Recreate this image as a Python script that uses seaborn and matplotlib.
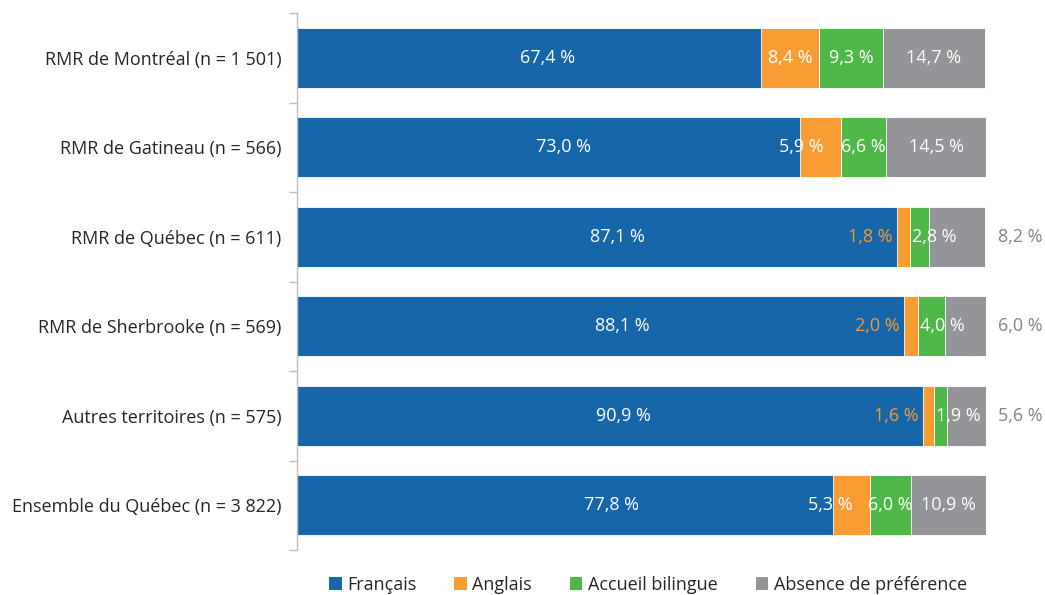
import numpy as np
import pandas as pd
import matplotlib
matplotlib.use("Agg")
import matplotlib.pyplot as plt
import seaborn as sns
from matplotlib.patches import Patch

categories = ["RMR de Montréal (n = 1 501)", "RMR de Gatineau (n = 566)", "RMR de Québec (n = 611)",
              "RMR de Sherbrooke (n = 569)", "Autres territoires (n = 575)", "Ensemble du Québec (n = 3 822)"]
francais = [67.4, 73.0, 87.1, 88.1, 90.9, 77.8]
anglais = [8.4, 5.9, 1.8, 2.0, 1.6, 5.3]
bilingue = [9.3, 6.6, 2.8, 4.0, 1.9, 6.0]
absence = [14.7, 14.5, 8.2, 6.0, 5.6, 10.9]
series_names = ["Français", "Anglais", "Accueil bilingue", "Absence de préférence"]

# label nudges for the first segment (layout only, in axis units)
fr_label_dx = [2.6, 2.2, 2.9, 3.2, 2.0, 6.8]

colors = ["#1766a9", "#f79d33", "#4fb848", "#939598"]
orange_txt = "#f59a2f"
gray_txt = "#858585"

sns.set_theme(style="white")
plt.rcParams['font.family'] = ['Open Sans', 'DejaVu Sans']

fig = plt.figure(figsize=(10.45, 5.95), dpi=100)
ax = fig.add_axes([297/1045, 1-550/595, (986-297)/1045, (550-13)/595])

vals = np.array([francais, anglais, bilingue, absence])
cum = np.cumsum(vals, axis=0)
df = pd.DataFrame({"cat": categories})
for i in range(3, -1, -1):
    df["v"] = cum[i]
    sns.barplot(data=df, x="v", y="cat", orient="h", color=colors[i], saturation=1,
                width=0.67, edgecolor="white", linewidth=0.6, ax=ax)

fs = 13
for r in range(len(categories)):
    starts = [0] + list(cum[:-1, r])
    for i in range(4):
        v = vals[i, r]
        s = starts[i]
        lab = f"{v:.1f} %".replace(".", ",")
        if i == 0:
            ax.text(s + v/2 + fr_label_dx[r], r, lab, ha="center", va="center", color="white", fontsize=fs)
        elif i == 1:
            if v >= 7:
                ax.text(s + v/2, r, lab, ha="center", va="center", color="white", fontsize=fs)
            elif v >= 5:
                ax.text(s + v - 2.4, r, lab, ha="right", va="center", color="white", fontsize=fs)
            else:
                ax.text(s - 0.7, r, lab, ha="right", va="center", color=orange_txt, fontsize=fs)
        elif i == 2:
            if v >= 5:
                ax.text(s + v/2, r, lab, ha="center", va="center", color="white", fontsize=fs)
            else:
                ax.text(s + 0.3, r, lab, ha="left", va="center", color="white", fontsize=fs)
        else:
            if v >= 9:
                ax.text(s + v/2, r, lab, ha="center", va="center", color="white", fontsize=fs)
            else:
                ax.text(105, r, lab, ha="center", va="center", color=gray_txt, fontsize=fs)

ax.set_xlim(0, 100)
ax.set_ylim(len(categories) - 0.5, -0.5)
ax.set_xlabel("")
ax.set_ylabel("")
ax.set_xticks([])
for sp in ["top", "right", "bottom"]:
    ax.spines[sp].set_visible(False)
ax.spines["left"].set_color("#bfbfbf")
ax.spines["left"].set_linewidth(1)
ax.set_yticks(range(len(categories)))
ax.set_yticklabels(categories, fontsize=fs, color="#262626")
ax.set_yticks(np.arange(-0.5, len(categories), 1), minor=True)
ax.tick_params(axis="y", which="major", length=0, pad=11)
ax.tick_params(axis="y", which="minor", length=6, color="#bfbfbf", width=1, left=True)

handles = [Patch(facecolor=c, edgecolor="none") for c in colors]
fig.legend(handles, series_names, loc="center", bbox_to_anchor=(0.62, 1-585/595), ncol=4,
           frameon=False, fontsize=fs, handlelength=0.7, handleheight=0.7, handletextpad=0.3,
           columnspacing=2.1)

fig.savefig("out.png", dpi=100)
